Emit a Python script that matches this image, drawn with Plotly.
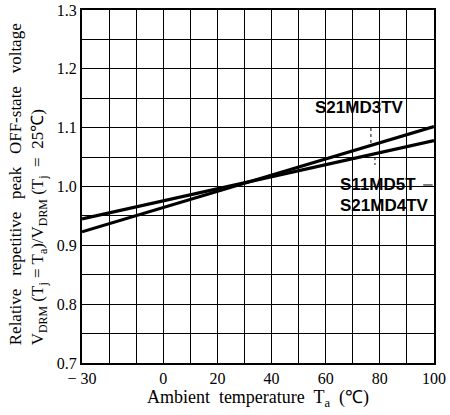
import plotly.graph_objects as go

# Ambient temperature (°C) at the ends of each curve
temp = [-30, 100]
# Relative repetitive peak OFF-state voltage, normalised at Tj = 25 °C
s21md3tv = [0.923, 1.102]
s11md5t_s21md4tv = [0.945, 1.078]

x_tickvals = [-30, 0, 20, 40, 60, 80, 100]
x_ticktext = ["\u2212 30", "0", "20", "40", "60", "80", "100"]
y_tickvals = [0.7, 0.8, 0.9, 1.0, 1.1, 1.2, 1.3]
y_ticktext = ["0.7", "0.8", "0.9", "1.0", "1.1", "1.2", "1.3"]

serif = "Liberation Serif, Times New Roman, serif"
sans = "Liberation Sans, Arial, sans-serif"

fig = go.Figure()
for name, vals in [("S21MD3TV", s21md3tv), ("S11MD5T / S21MD4TV", s11md5t_s21md4tv)]:
    fig.add_trace(go.Scatter(x=temp, y=vals, mode="lines", name=name,
                             line=dict(color="black", width=3.2), showlegend=False))

fig.update_xaxes(range=[-30, 100], tickvals=x_tickvals, ticktext=x_ticktext,
                 automargin=False,
                 showgrid=True, gridcolor="black", gridwidth=1,
                 minor=dict(dtick=10, tick0=0, showgrid=True, gridcolor="black", gridwidth=1),
                 showline=True, linecolor="black", linewidth=2, mirror=True,
                 ticks="", zeroline=False,
                 tickfont=dict(family=serif, size=16, color="black"),
                 title=dict(text="Ambient  temperature  T<sub>a</sub>  (\u2103)",
                            font=dict(family=serif, size=18, color="black"), standoff=2))
fig.update_yaxes(range=[0.7, 1.3], tickvals=y_tickvals, ticktext=y_ticktext,
                 automargin=False,
                 showgrid=True, gridcolor="black", gridwidth=1,
                 minor=dict(dtick=0.05, tick0=0.7, showgrid=True, gridcolor="black", gridwidth=1),
                 showline=True, linecolor="black", linewidth=2, mirror=True,
                 ticks="", zeroline=False,
                 tickfont=dict(family=serif, size=16, color="black"))

# Two-line vertical axis title, both lines starting from the bottom
fig.add_annotation(xref="paper", yref="paper", x=-0.153, y=0.045,
                   xanchor="center", yanchor="bottom", textangle=-90, align="left",
                   showarrow=False,
                   text="Relative   repetitive   peak   OFF-state   voltage<br>"
                        "V<sub>DRM</sub> (T<sub>j</sub> = T<sub>a</sub>)/V<sub>DRM</sub> (T<sub>j</sub>  =  25\u2103)",
                   font=dict(family=serif, size=17, color="black"))

label_font = dict(family=sans, size=17, color="black")
fig.add_annotation(x=55.3, y=1.135, text="<b>S21MD3TV</b>", showarrow=False,
                   xanchor="left", yanchor="middle", font=label_font)
fig.add_annotation(x=64.5, y=1.0026, text="<b>S11MD5T</b>", showarrow=False,
                   xanchor="left", yanchor="middle", font=label_font)
fig.add_annotation(x=64.5, y=0.9685, text="<b>S21MD4TV</b>", showarrow=False,
                   xanchor="left", yanchor="middle", font=label_font)

# leader lines tying the labels to their curves
leader = dict(color="black", width=1, dash="dot")
fig.add_shape(type="line", x0=76.7, x1=76.7, y0=1.0995, y1=1.074, line=leader)
fig.add_shape(type="line", x0=78.2, x1=78.2, y0=1.050, y1=1.0366, line=leader)
fig.add_shape(type="line", x0=96, x1=99.5, y0=1.0026, y1=1.0026,
              line=dict(color="black", width=1))

fig.update_layout(width=450, height=415, margin=dict(l=82, r=16, t=10, b=52),
                  plot_bgcolor="white", paper_bgcolor="white")
fig.write_html("out.html")
